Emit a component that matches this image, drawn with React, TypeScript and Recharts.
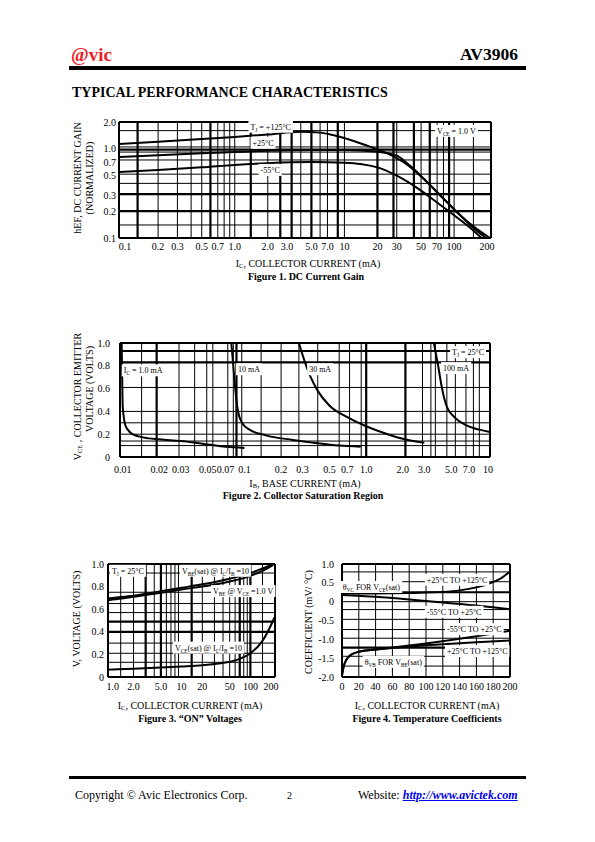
import React, { useLayoutEffect, useRef, useState } from "react";
import { ComposedChart, Line, XAxis, YAxis, ReferenceLine, ReferenceDot } from "recharts";

const SERIF = '"Liberation Serif", "Times New Roman", Times, serif';

// ---- Figure 1: DC current gain (log / log)
const gainTicksX = [0.1, 0.2, 0.3, 0.5, 0.7, 1, 2, 3, 5, 7, 10, 20, 30, 50, 70, 100, 200];
const gainTicksY = [0.1, 0.2, 0.3, 0.5, 0.7, 1, 2];
const gainGridX = [0.2, 0.3, 0.4, 0.5, 0.7, 0.8, 0.9, 1, 2, 4, 6, 7, 10, 30, 50, 70, 80, 100, 150];
const gainGridXHeavy = [0.13, 0.6, 1.4, 2.6, 3.3, 5, 8.7, 20, 28, 43, 60, 90];
const gainGridY = [1.6, 1.05, 0.92, 0.75, 0.52, 0.41, 0.14];
const gainGridYHeavy = [0.98, 0.31, 0.2];
const gainHot = [[0.088, 1.13], [0.2, 1.2], [0.5, 1.29], [1, 1.36], [2, 1.45], [4, 1.55], [6, 1.52], [8, 1.42], [15, 1.12], [26, 0.86], [37, 0.67], [53, 0.46], [73, 0.31], [104, 0.2], [150, 0.135], [212, 0.1]];
const gainRoom = [[0.088, 0.81], [0.2, 0.85], [0.5, 0.89], [1, 0.92], [2, 0.95], [5, 0.97], [10, 0.97], [20, 0.93], [30, 0.84], [40, 0.64], [55, 0.44], [75, 0.3], [100, 0.21], [140, 0.14], [195, 0.1]];
const gainCold = [[0.088, 0.55], [0.2, 0.58], [0.5, 0.62], [1, 0.66], [2, 0.69], [5, 0.71], [10, 0.7], [20, 0.62], [30, 0.5], [50, 0.34], [70, 0.25], [100, 0.18], [140, 0.13], [178, 0.1]];
const gainNotes = [
  { x: 1.39, y: 1.77, text: "T_{J} = +125°C" },
  { x: 1.45, y: 1.17, text: "+25°C" },
  { x: 1.72, y: 0.58, text: "-55°C" },
  { x: 70, y: 1.59, text: "V_{CE} = 1.0 V" },
];

// ---- Figure 2: collector saturation region
const satTicksX = [0.01, 0.02, 0.03, 0.05, 0.07, 0.1, 0.2, 0.3, 0.5, 0.7, 1, 2, 3, 5, 7, 10];
const satTicksY = [0, 0.2, 0.4, 0.6, 0.8, 1];
const satGridX = [0.0143, 0.029, 0.039, 0.049, 0.055, 0.073, 0.081, 0.095, 0.137, 0.2, 0.28, 0.4, 0.6, 0.73, 0.91, 2.9, 3.4, 3.7, 4.6, 5.4, 6.6, 7.6, 8.5];
const satGridXHeavy = [0.019, 0.086, 1, 2.1];
const satGridY = [0.1, 0.14, 0.2, 0.3, 0.4, 0.61];
const satGridYHeavy = [0.83, 0.93];
const sat1mA = [[0.0098, 1.0], [0.0099, 0.7], [0.01, 0.45], [0.0102, 0.35], [0.0105, 0.28], [0.011, 0.24], [0.012, 0.2], [0.015, 0.17], [0.02, 0.155], [0.03, 0.14], [0.05, 0.11], [0.07, 0.09], [0.1, 0.08]];
const sat10mA = [[0.078, 1.0], [0.081, 0.8], [0.084, 0.6], [0.087, 0.45], [0.091, 0.35], [0.097, 0.29], [0.11, 0.24], [0.15, 0.19], [0.25, 0.15], [0.4, 0.12], [0.6, 0.1], [0.9, 0.09]];
const sat30mA = [[0.28, 1.0], [0.31, 0.85], [0.35, 0.7], [0.4, 0.58], [0.5, 0.45], [0.7, 0.35], [1.0, 0.27], [1.5, 0.2], [2.0, 0.16], [3.0, 0.125]];
const sat100mA = [[3.6, 1.0], [3.9, 0.8], [4.2, 0.6], [4.6, 0.44], [5.3, 0.35], [6.6, 0.28], [8.5, 0.24], [10.4, 0.22]];
const satNotes = [
  { x: 0.0102, y: 0.76, text: "I_{C} = 1.0 mA" },
  { x: 0.0886, y: 0.77, text: "10 mA" },
  { x: 0.34, y: 0.77, text: "30 mA" },
  { x: 4.28, y: 0.78, text: "100 mA" },
  { x: 5.08, y: 0.92, text: "T_{J} = 25°C" },
];

// ---- Figure 3: "ON" voltages
const onTicksX = [1, 2, 5, 10, 20, 50, 100, 200];
const onTicksY = [0, 0.2, 0.4, 0.6, 0.8, 1];
const onGridX = [1.3, 2, 4, 6, 7, 8, 9, 20, 30, 40, 50, 60, 80, 90, 150];
const onGridXHeavy = [3, 5, 14, 70, 100];
const onGridY = [0.92, 0.75, 0.65, 0.57, 0.3, 0.21, 0.13];
const onGridYHeavy = [0.49, 0.4];
const vbeSat = [[0.85, 0.695], [1, 0.7], [2, 0.72], [5, 0.76], [10, 0.79], [20, 0.82], [50, 0.87], [100, 0.92], [150, 0.96], [215, 1.0]];
const vbeOn = [[0.85, 0.68], [1, 0.685], [2, 0.71], [5, 0.745], [10, 0.775], [20, 0.8], [50, 0.845], [100, 0.895], [150, 0.94], [215, 0.99]];
const vceSat = [[0.85, 0.065], [1, 0.067], [2, 0.073], [5, 0.083], [10, 0.093], [20, 0.105], [50, 0.135], [70, 0.16], [100, 0.21], [150, 0.32], [200, 0.46], [225, 0.53]];
const onNotes = [
  { x: 0.97, y: 0.94, text: "T_{J} = 25°C" },
  { x: 10.1, y: 0.94, text: "V_{BE}(sat) @ I_{C}/I_{B} =10" },
  { x: 28.6, y: 0.76, text: "V_{BE} @ V_{CE} =1.0 V" },
  { x: 8.0, y: 0.26, text: "V_{CE}(sat) @ I_{C}/I_{B} =10" },
];

// ---- Figure 4: temperature coefficients
const tcTicksX = [0, 20, 40, 60, 80, 100, 120, 140, 160, 180, 200];
const tcTicksY = [-2, -1.5, -1, -0.5, 0, 0.5, 1];
const tcGridX = [20, 40, 60, 80, 100, 120, 140, 160, 180];
const tcGridXHeavy: number[] = [];
const tcGridY = [0.79, 0.53, 0, -0.21, -0.47, -0.74, -0.97, -1.45, -1.71];
const tcGridYHeavy = [0.25, -1.22];
const vcHot = [[0, 0.22], [40, 0.22], [80, 0.23], [120, 0.26], [140, 0.3], [160, 0.38], [175, 0.48], [190, 0.63], [200, 0.8]];
const vcCold = [[0, 0.18], [40, 0.13], [80, 0.06], [120, -0.02], [160, -0.1], [200, -0.2]];
const vbCold = [[0, -1.95], [2, -1.72], [5, -1.55], [10, -1.42], [20, -1.33], [40, -1.27], [70, -1.19], [100, -1.11], [130, -1.02], [160, -0.92], [200, -0.77]];
const vbHot = [[0, -1.95], [2, -1.72], [5, -1.55], [10, -1.42], [20, -1.33], [40, -1.27], [70, -1.21], [100, -1.16], [130, -1.12], [160, -1.08], [200, -1.03]];
const tcNotes = [
  { x: 1, y: 0.39, text: "θ_{VC} FOR V_{CE}(sat)" },
  { x: 101, y: 0.58, text: "+25°C TO +125°C" },
  { x: 101, y: -0.27, text: "-55°C TO +25°C" },
  { x: 125, y: -0.73, text: "-55°C TO +25°C" },
  { x: 125, y: -1.31, text: "+25°C TO +125°C" },
  { x: 27, y: -1.6, text: "θ_{VB} FOR V_{BE}(sat)" },
];

const fmtLogX = (v: number) => (v < 0.1 ? v.toFixed(2) : v < 10 ? v.toFixed(1) : String(v));
const fmtOne = (v: number) => v.toFixed(1);
const fmtZero = (v: number) => (v === 0 ? "0" : v.toFixed(1));

type Note = { x: number; y: number; text: string };

function SvgRich({ text, size }: { text: string; size: number }) {
  const parts = text.split(/_\{([^}]*)\}/);
  return (
    <>
      {parts.map((p, i) =>
        i % 2 === 1 ? (
          <tspan key={i} fontSize={size * 0.65} dy={2}>{p}</tspan>
        ) : i > 0 ? (
          <tspan key={i} dy={-2}>{p}</tspan>
        ) : (
          <tspan key={i}>{p}</tspan>
        )
      )}
    </>
  );
}

function BoxLabel({ cx, cy, text }: { cx: number; cy: number; text: string }) {
  const ref = useRef<SVGTextElement>(null);
  const [w, setW] = useState(0);
  useLayoutEffect(() => {
    if (ref.current) setW(ref.current.getBBox().width);
  }, [text]);
  return (
    <g>
      <rect x={cx - 2} y={cy - 6} width={w + 4} height={12} fill="#fff" />
      <text ref={ref} x={cx} y={cy + 3} fontSize={8} fontFamily={SERIF} fill="#000">
        <SvgRich text={text} size={8} />
      </text>
    </g>
  );
}

function HtmlRich({ text }: { text: string }) {
  const parts = text.split(/_\{([^}]*)\}/);
  return (
    <>
      {parts.map((p, i) =>
        i % 2 === 1 ? (
          <span key={i} style={{ fontSize: "0.65em", position: "relative", top: "0.2em" }}>{p}</span>
        ) : (
          <span key={i}>{p}</span>
        )
      )}
    </>
  );
}

// baseline-positioned text; align: start | center | end around x
function Txt({ x, y, size, text, bold, align = "start", color = "#000", rotate }: {
  x: number; y: number; size: number; text: string; bold?: boolean;
  align?: "start" | "center" | "end"; color?: string; rotate?: boolean;
}) {
  const w = 400;
  const left = align === "start" ? x : align === "end" ? x - w : x - w / 2;
  const style: React.CSSProperties = {
    position: "absolute",
    left,
    top: y - size * 0.8375,
    width: w,
    textAlign: align === "start" ? "left" : align === "end" ? "right" : "center",
    fontFamily: SERIF,
    fontSize: size,
    lineHeight: `${size}px`,
    fontWeight: bold ? "bold" : "normal",
    color,
    whiteSpace: "nowrap",
  };
  if (rotate) {
    // x, y = centre of the rotated line
    style.left = x - w / 2;
    style.top = y - size / 2;
    style.textAlign = "center";
    style.transform = "rotate(-90deg)";
    style.transformOrigin = "50% 50%";
  }
  return (
    <div style={style}>
      <HtmlRich text={text} />
    </div>
  );
}

interface PlotProps {
  left: number; top: number; width: number; height: number;
  marginTop: number; marginRight: number;
  yWidth: number; xHeight: number; xGap: number; yGap: number;
  xLog?: boolean; yLog?: boolean;
  xDomain: [number, number]; yDomain: [number, number];
  xTicks: number[]; yTicks: number[];
  xFmt: (v: number) => string; yFmt: (v: number) => string;
  gridX: number[]; gridXHeavy: number[]; gridY: number[]; gridYHeavy: number[];
  curves: number[][][];
  notes: Note[];
}

function Plot(p: PlotProps) {
  const tick = { fontSize: 10, fill: "#000", fontFamily: SERIF };
  return (
    <div style={{ position: "absolute", left: p.left, top: p.top }}>
      <ComposedChart width={p.width} height={p.height} margin={{ top: p.marginTop, right: p.marginRight, bottom: 0, left: 0 }}>
        <XAxis
          type="number"
          dataKey="x"
          scale={p.xLog ? "log" : "linear"}
          domain={p.xDomain}
          allowDataOverflow
          ticks={p.xTicks}
          interval={0}
          tickFormatter={p.xFmt}
          tickLine={false}
          axisLine={false}
          tickSize={0}
          tickMargin={p.xGap}
          height={p.xHeight}
          tick={tick}
        />
        <YAxis
          type="number"
          scale={p.yLog ? "log" : "linear"}
          domain={p.yDomain}
          allowDataOverflow
          ticks={p.yTicks}
          interval={0}
          tickFormatter={p.yFmt}
          tickLine={false}
          axisLine={false}
          tickSize={0}
          tickMargin={p.yGap}
          width={p.yWidth}
          tick={tick}
        />
        {p.gridX.map((v) => (
          <ReferenceLine key={"gx" + v} x={v} stroke="#000" strokeWidth={1} ifOverflow="visible" />
        ))}
        {p.gridXHeavy.map((v) => (
          <ReferenceLine key={"hx" + v} x={v} stroke="#000" strokeWidth={2.2} ifOverflow="visible" />
        ))}
        {p.gridY.map((v) => (
          <ReferenceLine key={"gy" + v} y={v} stroke="#000" strokeWidth={1} ifOverflow="visible" />
        ))}
        {p.gridYHeavy.map((v) => (
          <ReferenceLine key={"hy" + v} y={v} stroke="#000" strokeWidth={2.2} ifOverflow="visible" />
        ))}
        {p.xDomain.map((v) => (
          <ReferenceLine key={"bx" + v} x={v} stroke="#000" strokeWidth={2} ifOverflow="visible" />
        ))}
        {p.yDomain.map((v) => (
          <ReferenceLine key={"by" + v} y={v} stroke="#000" strokeWidth={2} ifOverflow="visible" />
        ))}
        {p.curves.map((c, i) => (
          <Line
            key={"c" + i}
            data={c.map(([x, y]) => ({ x, y }))}
            dataKey="y"
            type="monotone"
            stroke="#000"
            strokeWidth={2}
            dot={false}
            activeDot={false}
            isAnimationActive={false}
          />
        ))}
        {p.notes.map((n, i) => (
          <ReferenceDot
            key={"n" + i}
            x={n.x}
            y={n.y}
            r={1}
            ifOverflow="visible"
            shape={(s: any) => <BoxLabel cx={s.cx} cy={s.cy} text={n.text} />}
          />
        ))}
      </ComposedChart>
    </div>
  );
}

export default function App() {
  return (
    <div style={{ position: "absolute", left: 0, top: 0, width: 595, height: 842, background: "#fff", fontFamily: SERIF }}>
      {/* header */}
      <Txt x={71} y={61} size={19} bold text="@vic" color="#ee1c25" />
      <Txt x={518} y={61} size={17.5} bold align="end" text="AV3906" />
      <div style={{ position: "absolute", left: 69, top: 66, width: 457, height: 4, background: "#000" }} />
      <Txt x={72} y={97.5} size={14} bold text="TYPICAL PERFORMANCE CHARACTERISTICS" />

      {/* Figure 1 */}
      <Plot
        left={60} top={110} width={440} height={150} marginTop={12} marginRight={9}
        yWidth={59} xHeight={22} xGap={5} yGap={3}
        xLog yLog xDomain={[0.088, 217]} yDomain={[0.1, 2]}
        xTicks={gainTicksX} yTicks={gainTicksY} xFmt={fmtLogX} yFmt={fmtOne}
        gridX={gainGridX} gridXHeavy={gainGridXHeavy} gridY={gainGridY} gridYHeavy={gainGridYHeavy}
        curves={[gainHot, gainRoom, gainCold]} notes={gainNotes}
      />
      <Txt x={78} y={178} size={10} rotate text="hEF, DC CURRENT GAIN" />
      <Txt x={90} y={178} size={10} rotate text="(NORMALIZED)" />
      <Txt x={308} y={267} size={10} align="center" text="I_{C}, COLLECTOR CURRENT (mA)" />
      <Txt x={306} y={280} size={10} bold align="center" text="Figure 1. DC Current Gain" />

      {/* Figure 2 */}
      <Plot
        left={60} top={331} width={440} height={150} marginTop={12} marginRight={10}
        yWidth={60} xHeight={24} xGap={9} yGap={10}
        xLog xDomain={[0.0095, 10.4]} yDomain={[0, 1]}
        xTicks={satTicksX} yTicks={satTicksY} xFmt={fmtLogX} yFmt={fmtZero}
        gridX={satGridX} gridXHeavy={satGridXHeavy} gridY={satGridY} gridYHeavy={satGridYHeavy}
        curves={[sat1mA, sat10mA, sat30mA, sat100mA]} notes={satNotes}
      />
      <Txt x={78} y={396} size={10} rotate text="V_{CE} , COLLECTOR EMITTER" />
      <Txt x={90} y={389} size={10} rotate text="VOLTAGE (VOLTS)" />
      <Txt x={305} y={487} size={10} align="center" text="I_{B}, BASE CURRENT (mA)" />
      <Txt x={303} y={499} size={10} bold align="center" text="Figure 2. Collector Saturation Region" />

      {/* Figure 3 */}
      <Plot
        left={50} top={552} width={235} height={150} marginTop={12} marginRight={10}
        yWidth={58} xHeight={25} xGap={6} yGap={4}
        xLog xDomain={[0.85, 228]} yDomain={[0, 1]}
        xTicks={onTicksX} yTicks={onTicksY} xFmt={fmtLogX} yFmt={fmtZero}
        gridX={onGridX} gridXHeavy={onGridXHeavy} gridY={onGridY} gridYHeavy={onGridYHeavy}
        curves={[vbeSat, vbeOn, vceSat]} notes={onNotes}
      />
      <Txt x={77} y={619} size={10} rotate text="V, VOLTAGE (VOLTS)" />
      <Txt x={190} y={709} size={10} align="center" text="I_{C}, COLLECTOR CURRENT (mA)" />
      <Txt x={190} y={722} size={10} bold align="center" text="Figure 3. “ON” Voltages" />

      {/* Figure 4 */}
      <Plot
        left={285} top={552} width={235} height={150} marginTop={12} marginRight={10}
        yWidth={57} xHeight={25} xGap={6} yGap={8}
        xDomain={[0, 200]} yDomain={[-2, 1]}
        xTicks={tcTicksX} yTicks={tcTicksY} xFmt={(v) => String(v)} yFmt={fmtZero}
        gridX={tcGridX} gridXHeavy={tcGridXHeavy} gridY={tcGridY} gridYHeavy={tcGridYHeavy}
        curves={[vcHot, vcCold, vbCold, vbHot]} notes={tcNotes}
      />
      <Txt x={309} y={622} size={10} rotate text="COEFFICIENT (mV/ °C)" />
      <Txt x={427} y={709} size={10} align="center" text="I_{C}, COLLECTOR CURRENT (mA)" />
      <Txt x={427} y={722} size={10} bold align="center" text="Figure 4. Temperature Coefficients" />

      {/* footer */}
      <div style={{ position: "absolute", left: 69, top: 776, width: 457, height: 3, background: "#000" }} />
      <Txt x={75} y={799} size={12} text="Copyright © Avic Electronics Corp." />
      <Txt x={287} y={799} size={10} text="2" />
      <div style={{ position: "absolute", left: 358, top: 799 - 12 * 0.8375, fontFamily: SERIF, fontSize: 12, lineHeight: "12px", whiteSpace: "nowrap" }}>
        Website:{" "}
        <span style={{ color: "#0000ee", fontStyle: "italic", fontWeight: "bold", textDecoration: "underline" }}>
          http://www.avictek.com
        </span>
      </div>
    </div>
  );
}
